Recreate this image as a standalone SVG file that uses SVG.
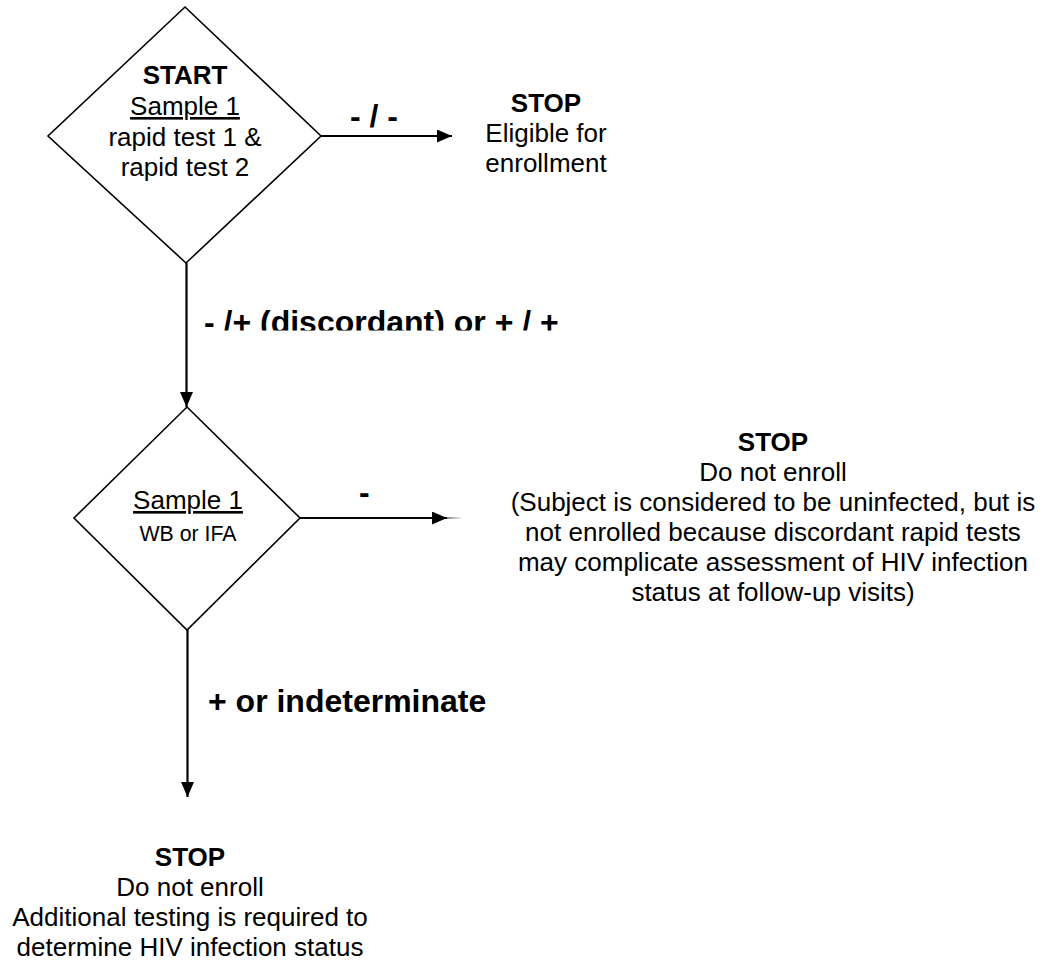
<svg xmlns="http://www.w3.org/2000/svg" width="1052" height="962" viewBox="0 0 1052 962">
<style>
text{font-family:"Liberation Sans",Arial,Helvetica,sans-serif;fill:#000}
.n{font-size:26px}
.b{font-weight:bold}
.lbl{font-size:32px;font-weight:bold}
.sm{font-size:21.3px}
.c{text-anchor:middle}
.shape{fill:#fff;stroke:#000;stroke-width:1.6}
.conn{stroke:#000;stroke-width:2.2;fill:none}
.u{text-decoration:underline}
</style>
<defs>
<marker id="ah" markerWidth="16" markerHeight="14" refX="15" refY="6.5" orient="auto" markerUnits="userSpaceOnUse">
<path d="M0,0 L15,6.5 L0,13 Z" fill="#000"/>
</marker>
<clipPath id="clipLbl"><rect x="190" y="290" width="400" height="40.5"/></clipPath>
<linearGradient id="fade" x1="0" y1="0" x2="1" y2="0"><stop offset="0" stop-color="#888"/><stop offset="1" stop-color="#fff"/></linearGradient>
</defs>
<rect width="1052" height="962" fill="#fff"/>
<g id="connectors">
<line class="conn" x1="321" y1="136" x2="452" y2="136" marker-end="url(#ah)"/>
<line class="conn" x1="186.5" y1="263" x2="186.5" y2="407" marker-end="url(#ah)"/>
<line class="conn" x1="300" y1="518" x2="447" y2="518" marker-end="url(#ah)"/>
<rect x="447" y="517" width="16" height="2" fill="url(#fade)"/>
<line class="conn" x1="187.5" y1="630" x2="187.5" y2="797" marker-end="url(#ah)"/>
<text class="lbl" x="350" y="127">- / -</text>
<text class="lbl" x="204" y="333" clip-path="url(#clipLbl)">- /+ (discordant) or + / +</text>
<text class="lbl" x="359" y="503">-</text>
<text class="lbl" x="208" y="712">+ or indeterminate</text>
</g>
<g id="start">
<polygon class="shape" points="185,7 321,136 186,263 48,136"/>
<text class="n b c" x="185" y="84">START</text>
<text class="n c u" x="185" y="115">Sample 1</text>
<text class="n c" x="185" y="146">rapid test 1 &amp;</text>
<text class="n c" x="185" y="176">rapid test 2</text>
</g>
<g id="stop-eligible">
<text class="n b c" x="546" y="112">STOP</text>
<text class="n c" x="546" y="142">Eligible for</text>
<text class="n c" x="546" y="172">enrollment</text>
</g>
<g id="confirm">
<polygon class="shape" points="187,407 300,518 187,630 74,518"/>
<text class="n c u" x="188" y="509">Sample 1</text>
<text class="sm c" x="188" y="541">WB or IFA</text>
</g>
<g id="stop-uninfected">
<text class="n b c" x="773" y="451">STOP</text>
<text class="n c" x="773" y="481">Do not enroll</text>
<text class="n c" x="773" y="511">(Subject is considered to be uninfected, but is</text>
<text class="n c" x="773" y="541">not enrolled because discordant rapid tests</text>
<text class="n c" x="773" y="571">may complicate assessment of HIV infection</text>
<text class="n c" x="773" y="601">status at follow-up visits)</text>
</g>
<g id="stop-additional">
<text class="n b c" x="190" y="866">STOP</text>
<text class="n c" x="190" y="896">Do not enroll</text>
<text class="n c" x="190" y="926">Additional testing is required to</text>
<text class="n c" x="190" y="956">determine HIV infection status</text>
</g>
</svg>
